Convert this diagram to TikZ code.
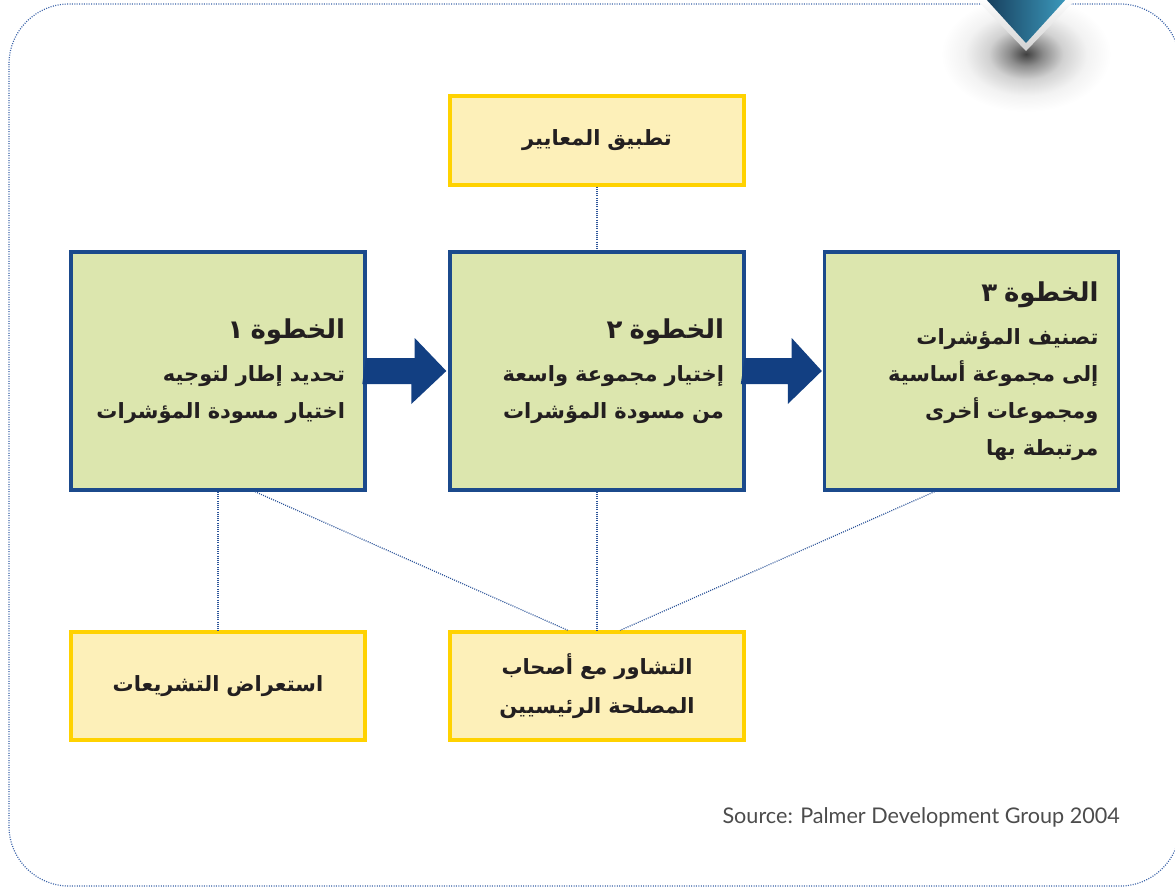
\documentclass[tikz,border=0pt]{standalone}
\usepackage{fontspec}
\usetikzlibrary{calc}
\TeXXeTstate=1
\setmainfont{Lato}
\newfontfamily\arabicfont[Script=Arabic]{DejaVu Sans}
\definecolor{framec}{HTML}{3A62A8}
\definecolor{stepfill}{HTML}{DCE6AE}
\definecolor{stepborder}{HTML}{1B4A8C}
\definecolor{notefill}{HTML}{FDF0B9}
\definecolor{noteborder}{HTML}{FFD200}
\definecolor{arrowc}{HTML}{123F82}
\definecolor{linkc}{HTML}{2C5499}
\definecolor{textc}{HTML}{231F20}
\definecolor{shieldA}{HTML}{173E5C}
\definecolor{shieldB}{HTML}{3C9ABD}
\pgfdeclareradialshading{shadowfade}{\pgfpoint{0bp}{0bp}}{color(0bp)=(black!75); color(5bp)=(black!45); color(11bp)=(black!18); color(18bp)=(black!5); color(25bp)=(white); color(50bp)=(white)}
\begin{document}
\begin{tikzpicture}[x=1pt,y=-1pt,
  stepbox/.style={draw=stepborder, line width=3.4pt, fill=stepfill,
    minimum width=294pt, minimum height=238pt, text width=254pt,
    inner xsep=20pt, inner ysep=0pt, align=right, text=textc,
    font=\arabicfont\bfseries\fontsize{21}{37}\selectfont},
  notebox/.style={draw=noteborder, line width=3.2pt, fill=notefill,
    minimum width=294pt, text width=270pt, inner xsep=12pt, inner ysep=0pt,
    align=center, text=textc,
    font=\arabicfont\bfseries\fontsize{21}{39}\selectfont},
  link/.style={draw=linkc, line width=1.2pt, dash pattern=on 1pt off 1.2pt},
  blockarrow/.style={fill=arrowc}
]
\useasboundingbox (0,0) rectangle (1175,889);

% frame
\draw[draw=framec, line width=1.2pt, dash pattern=on 1pt off 1.4pt, rounded corners=60pt]
  (9,4) rectangle (1180,886);

% top-right decoration
\shade[shading=shadowfade] (1026,54) ellipse [x radius=85pt, y radius=58pt];
\shade[top color=white, bottom color=black!18] (975,-2) -- (1026,51) -- (1077,-2) -- cycle;
\shade[left color=shieldA, right color=shieldB] (985,-2) -- (1026,43) -- (1067,-2) -- cycle;

% nodes
\node[notebox, minimum height=89pt] (t) at (597,140.5) {\beginR تطبيق المعايير\endR};
\node[stepbox] (s1) at (218,371) {{\fontsize{26}{37}\selectfont\beginR الخطوة ١\endR}\\[6pt]
  \beginR تحديد إطار لتوجيه\endR\\ \beginR اختيار مسودة المؤشرات\endR};
\node[stepbox] (s2) at (597,371) {{\fontsize{26}{37}\selectfont\beginR الخطوة ٢\endR}\\[6pt]
  \beginR إختيار مجموعة واسعة\endR\\ \beginR من مسودة المؤشرات\endR};
\node[stepbox] (s3) at (971.5,371) {{\fontsize{26}{37}\selectfont\beginR الخطوة ٣\endR}\\[6pt]
  \beginR تصنيف المؤشرات\endR\\ \beginR إلى مجموعة أساسية\endR\\
  \beginR ومجموعات أخرى\endR\\ \beginR مرتبطة بها\endR};
\node[notebox, minimum height=108pt] (b1) at (218,686) {\beginR استعراض التشريعات\endR};
\node[notebox, minimum height=108pt] (b2) at (597,686) {\beginR التشاور مع أصحاب\endR\\ \beginR المصلحة الرئيسيين\endR};

% dotted links
\draw[link] (t.south) -- (s2.north);
\draw[link] (s1.south) -- (b1.north);
\draw[link] ([xshift=37pt]s1.south) -- ([xshift=-29pt]b2.north);
\draw[link] (s2.south) -- (b2.north);
\draw[link] ([xshift=-37pt]s3.south) -- ([xshift=23pt]b2.north);

% block arrows
\fill[blockarrow] (s1.east) ++(-1,-13) -- ++(49,0) -- ++(0,-20) -- ([xshift=-2pt]s2.west)
  -- ++(-35,33) -- ++(0,-20) -- ++(-49,0) -- cycle;
\fill[blockarrow] (s2.east) ++(-1,-13) -- ++(47,0) -- ++(0,-20) -- ([xshift=-1pt]s3.west)
  -- ++(-34,33) -- ++(0,-20) -- ++(-47,0) -- cycle;

% source
\node[anchor=base east, inner sep=0pt, text=black!70, font=\fontsize{21.6}{25}\selectfont] (src)
  at (1120,823) {Source: Palmer Development Group 2004};
\end{tikzpicture}
\end{document}
